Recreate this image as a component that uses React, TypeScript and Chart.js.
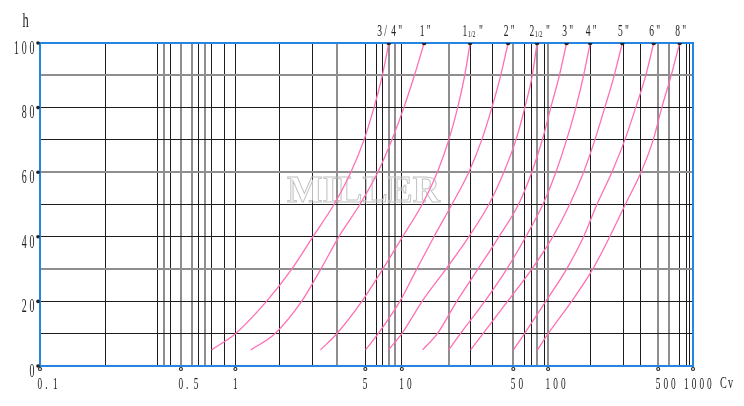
import React, { useEffect, useRef } from 'react';
import { Chart, registerables, LogarithmicScale } from 'chart.js';

// ---- data -------------------------------------------------------------
const H_LEVELS = [5, 10, 20, 30, 40, 50, 60, 70, 80, 90, 100];

const CV_3_4 = [0.739, 1.0, 1.47, 2.01, 2.61, 3.39, 4.18, 4.92, 5.89, 6.91, 7.81];
const CV_1 = [1.21, 1.63, 2.27, 2.88, 3.6, 4.67, 6.34, 8.27, 10.3, 12.0, 13.8];
const CV_1_1_2 = [2.87, 3.51, 4.79, 6.97, 10.1, 13.4, 16.7, 19.7, 22.4, 24.8, 26.8];
const CV_2 = [5.02, 6.38, 9.63, 12.4, 15.9, 20.6, 26.3, 31.7, 36.7, 41.7, 46.4];
const CV_2_1_2 = [7.77, 10.0, 13.4, 18.9, 26.3, 35.1, 43.6, 52.7, 62.9, 73.0, 80.3];
const CV_3 = [13.5, 16.7, 22.1, 30.0, 40.6, 55.4, 72.3, 89.1, 104, 118, 131];
const CV_4 = [19.7, 23.3, 33.1, 45.5, 64.1, 90.0, 112, 131, 150, 168, 185];
const CV_5 = [27.0, 32.3, 46.0, 72.3, 107, 137, 168, 198, 229, 263, 296];
const CV_6 = [50.2, 62.5, 95.5, 131, 168, 204, 254, 307, 360, 417, 468];
const CV_8 = [81.0, 100, 141, 192, 246, 309, 389, 465, 537, 648, 767];

const CURVES = [CV_3_4, CV_1, CV_1_1_2, CV_2, CV_2_1_2, CV_3, CV_4, CV_5, CV_6, CV_8];
const CURVE_LABELS = ['3/4"', '1"', '1½"', '2"', '2½"', '3"', '4"', '5"', '6"', '8"'];

const X_TICK_VALUES = [0.1, 0.5, 1, 5, 10, 50, 100, 500, 1000];
const X_TICK_LABELS = ['0.1', '0.5', '1', '5', '10', '50', '100', '500', '1000'];
const Y_TICK_VALUES = [0, 20, 40, 60, 80, 100];
const Y_TICK_LABELS = ['0', '20', '40', '60', '80', '100'];

const X_GRID_DARK = [0.1, 0.211, 0.382, 0.445, 0.626, 0.737, 0.87, 1, 1.72, 2.59, 5, 6.14, 6.88, 10,
  26.9, 37.0, 62.5, 71.3, 92.3, 187, 303, 387, 767, 877, 942, 1000];
const X_GRID_LIGHT = [0.412, 0.5, 0.575, 0.676, 3.5, 7.78, 8.84, 19.7, 50, 80.6, 100, 500, 622];
const Y_GRID_LIGHT = [30, 60, 90];

const X_AXIS_TITLE = 'Cv';
const Y_AXIS_TITLE = 'h';
const WATERMARK = 'MILLER';

// the original drawing's x axis is not a pure log scale: fraction of axis length at each labelled value
const X_WARP_VALUES = X_TICK_VALUES;
const X_WARP_FRACTIONS = [0, 0.2158, 0.2992, 0.4982, 0.5541, 0.7248, 0.7781, 0.9467, 1];

// ---- warped log scale -------------------------------------------------
const WARP_LOGS = X_WARP_VALUES.map((v) => Math.log10(v));
function warp(v: number): number {
  const L = Math.log10(v);
  const n = WARP_LOGS.length;
  let i = 0;
  while (i < n - 2 && L > WARP_LOGS[i + 1]) i++;
  const t = (L - WARP_LOGS[i]) / (WARP_LOGS[i + 1] - WARP_LOGS[i]);
  return X_WARP_FRACTIONS[i] + t * (X_WARP_FRACTIONS[i + 1] - X_WARP_FRACTIONS[i]);
}
function unwarp(f: number): number {
  const n = X_WARP_FRACTIONS.length;
  let i = 0;
  while (i < n - 2 && f > X_WARP_FRACTIONS[i + 1]) i++;
  const t = (f - X_WARP_FRACTIONS[i]) / (X_WARP_FRACTIONS[i + 1] - X_WARP_FRACTIONS[i]);
  return Math.pow(10, WARP_LOGS[i] + t * (WARP_LOGS[i + 1] - WARP_LOGS[i]));
}

class WarpedLogScale extends LogarithmicScale {
  static id = 'warpedLog';
  static defaults = LogarithmicScale.defaults;
  getPixelForValue(value: any) {
    if (value === undefined || value === null || isNaN(value) || value <= 0) return NaN;
    return this.getPixelForDecimal(warp(value));
  }
  getValueForPixel(pixel: number) {
    return unwarp(this.getDecimalForPixel(pixel));
  }
}

Chart.register(...registerables, WarpedLogScale as any);

// ---- styling ----------------------------------------------------------
const DARK = '#1c1c1c';
const LIGHT = '#8e8e8e';
const FRAME = '#2585e2';
const CURVE = '#ff6fb5';
const TEXT = '#222';
const FONT = '"Liberation Serif", "DejaVu Serif", serif';

const inList = (list: number[], v: number) => list.some((a) => Math.abs(a - v) <= Math.abs(v) * 1e-6 + 1e-9);

function drawSpaced(ctx: CanvasRenderingContext2D, text: string, x: number, baseline: number,
  size: number, sx: number, pitch: number, align: 'left' | 'right' | 'center') {
  ctx.font = `${size}px ${FONT}`;
  ctx.textAlign = 'left';
  ctx.textBaseline = 'alphabetic';
  const chars = Array.from(text);
  const lastW = ctx.measureText(chars[chars.length - 1]).width * sx;
  const total = (chars.length - 1) * pitch + lastW;
  const start = align === 'right' ? x - total : align === 'center' ? x - total / 2 : x;
  chars.forEach((c, i) => {
    ctx.save();
    ctx.translate(start + i * pitch, baseline);
    ctx.scale(sx, 1);
    ctx.fillText(c, 0, 0);
    ctx.restore();
  });
}

function drawCurveLabel(ctx: CanvasRenderingContext2D, label: string, cx: number, baseline: number) {
  if (label.includes('½')) {
    const [whole] = label.split('½');
    const total = 20;
    const s = cx + 2.5 - total / 2;
    drawSpaced(ctx, whole, s, baseline, 17, 0.56, 7, 'left');
    ctx.save();
    ctx.font = `8px ${FONT}`;
    ctx.translate(s + 5.2, baseline + 1);
    ctx.scale(0.75, 1);
    ctx.fillText('1/2', 0, 0);
    ctx.restore();
    drawSpaced(ctx, '"', s + 16.5, baseline, 17, 0.56, 7, 'left');
  } else {
    drawSpaced(ctx, label, cx + 1, baseline, 17, 0.56, 7, 'center');
  }
}

const decorPlugin = {
  id: 'decor',
  beforeDatasetsDraw(chart: any) {
    const { ctx, chartArea: a } = chart;
    ctx.save();
    // watermark
    ctx.font = `bold 38px ${FONT}`;
    const w = ctx.measureText(WATERMARK).width;
    const cx = a.left + 0.4954 * (a.right - a.left);
    const by = a.top + 0.492 * (a.bottom - a.top);
    ctx.translate(cx, by);
    ctx.scale(153 / w, 1);
    ctx.textAlign = 'center';
    ctx.textBaseline = 'alphabetic';
    ctx.strokeStyle = '#c2c2c2';
    ctx.lineWidth = 1;
    ctx.strokeText(WATERMARK, 0, 0);
    ctx.restore();
    // frame
    ctx.save();
    ctx.strokeStyle = FRAME;
    ctx.lineWidth = 2;
    ctx.strokeRect(a.left, a.top, a.right - a.left, a.bottom - a.top);
    ctx.restore();
  },
  afterDraw(chart: any) {
    const { ctx, chartArea: a } = chart;
    const xs = chart.scales.x;
    const ys = chart.scales.y;
    ctx.save();
    ctx.fillStyle = TEXT;
    ctx.strokeStyle = TEXT;
    // y labels and dots
    Y_TICK_VALUES.forEach((v, i) => {
      const py = ys.getPixelForValue(v);
      drawSpaced(ctx, Y_TICK_LABELS[i], a.left - 5.5, py + 10.8, 18, 0.55, 7.8, 'right');
      ctx.beginPath();
      ctx.arc(a.left - 2, py, 1.8, 0, Math.PI * 2);
      ctx.fill();
    });
    // x labels and dots
    X_TICK_VALUES.forEach((v, i) => {
      const px = xs.getPixelForValue(v);
      const t = X_TICK_LABELS[i];
      const start = px - 2.5 - (t.length >= 4 ? 6.5 : 0);
      drawSpaced(ctx, t, start, a.bottom + 22.5, 16, 0.58, 7.7, 'left');
      ctx.beginPath();
      ctx.lineWidth = 1.1;
      ctx.arc(px, a.bottom + 3, 1.5, 0, Math.PI * 2);
      ctx.stroke();
    });
    // curve labels above the frame
    CURVES.forEach((cv, i) => {
      const px = xs.getPixelForValue(cv[cv.length - 1]);
      drawCurveLabel(ctx, CURVE_LABELS[i], px, a.top - 7.5);
    });
    // axis titles
    drawSpaced(ctx, Y_AXIS_TITLE, 22.5, a.top - 16.3, 20, 0.62, 8, 'left');
    drawSpaced(ctx, X_AXIS_TITLE, a.right + 27, a.bottom + 22, 17, 0.6, 8, 'left');
    ctx.restore();
  },
};

export default function App() {
  const ref = useRef<HTMLCanvasElement | null>(null);
  useEffect(() => {
    if (!ref.current) return;
    const datasets = CURVES.map((cv, i) => ({
      label: CURVE_LABELS[i],
      data: H_LEVELS.map((h, j) => ({ x: cv[j], y: h })),
      borderColor: CURVE,
      borderWidth: 1.3,
      cubicInterpolationMode: 'monotone' as const,
      pointRadius: (c: any) => (c.dataIndex === H_LEVELS.length - 1 ? 2.3 : 0),
      pointBackgroundColor: '#222',
      pointBorderWidth: 0,
      fill: false,
    }));
    const chart = new Chart(ref.current, {
      type: 'line',
      data: { datasets },
      options: {
        responsive: false,
        animation: false,
        events: [],
        layout: { padding: { top: 43, right: 51, left: 0, bottom: 0 } },
        plugins: { legend: { display: false }, tooltip: { enabled: false } },
        scales: {
          x: {
            type: 'warpedLog' as any,
            min: 0.1,
            max: 1000,
            afterBuildTicks: (s: any) => {
              s.ticks = [...X_GRID_DARK, ...X_GRID_LIGHT].sort((p, q) => p - q).map((value) => ({ value }));
            },
            afterFit: (s: any) => { s.height = 40; },
            ticks: { display: false },
            border: { display: false },
            grid: {
              drawTicks: false,
              color: (c: any) => (inList(X_GRID_LIGHT, c.tick?.value) ? LIGHT : DARK),
              lineWidth: (c: any) => (inList(X_GRID_LIGHT, c.tick?.value) ? 2 : 1),
            },
          },
          y: {
            type: 'linear',
            min: 0,
            max: 100,
            afterFit: (s: any) => { s.width = 40; },
            ticks: { display: false, stepSize: 10 },
            border: { display: false },
            grid: {
              drawTicks: false,
              color: (c: any) => (inList(Y_GRID_LIGHT, c.tick?.value) ? LIGHT : DARK),
              lineWidth: (c: any) => (inList(Y_GRID_LIGHT, c.tick?.value) ? 2 : 1),
            },
          },
        },
      } as any,
      plugins: [decorPlugin],
    });
    return () => chart.destroy();
  }, []);
  return (
    <div style={{ position: 'absolute', left: 0, top: 0, width: 744, height: 406, background: '#fff' }}>
      <canvas ref={ref} width={744} height={406} style={{ display: 'block' }} />
    </div>
  );
}
